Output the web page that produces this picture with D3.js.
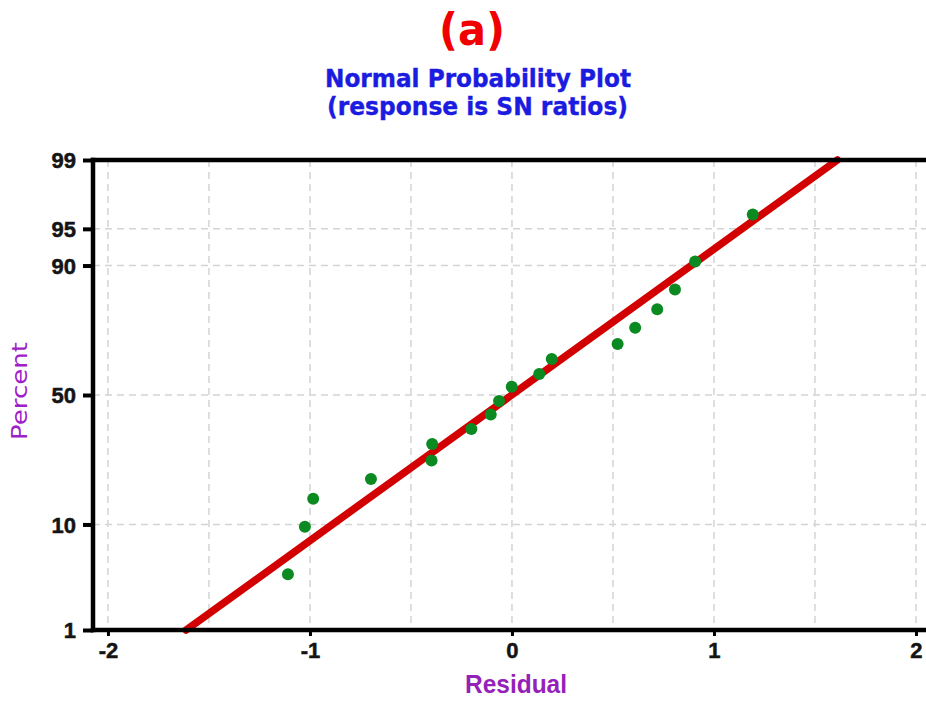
<!DOCTYPE html>
<html>
<head>
<meta charset="utf-8">
<script src="https://cdn.jsdelivr.net/npm/d3@7"></script>
<style>
  html, body { margin: 0; padding: 0; background: #ffffff; overflow: hidden; }
  svg { display: block; }
</style>
</head>
<body>
<svg id="chart" width="926" height="708"></svg>
<script>
// Residuals of the SN-ratio response, in plotting order
const residuals = [-1.109, -1.025, -0.984, -0.698, -0.398, -0.395, -0.201, -0.105, -0.064,
                   -0.001, 0.135, 0.197, 0.523, 0.610, 0.719, 0.807, 0.907, 1.192];
// Cumulative percent for each residual
const percents = [3.8, 9.6, 15.2, 20.3, 25.8, 31.4, 36.8, 42.3, 47.6,
                  53.3, 58.2, 63.9, 69.3, 74.7, 80.2, 85.2, 90.7, 96.3];
// Fitted normal line, given by its two ends
const fitPercents = [1, 99];
const fitResiduals = [-1.613, 1.611];
// Axis ticks
const xTicks = [-2, -1, 0, 1, 2];
const xGrid = [-2, -1.5, -1, -0.5, 0, 0.5, 1, 1.5, 2];
const yTicks = [1, 10, 50, 90, 95, 99];
const yGrid = [10, 50, 90, 95];

// Inverse standard normal CDF (Acklam's rational approximation)
function probit(p) {
  const a = [-3.969683028665376e+01, 2.209460984245205e+02, -2.759285104469687e+02,
             1.383577518672690e+02, -3.066479806614716e+01, 2.506628277459239e+00];
  const b = [-5.447609879822406e+01, 1.615858368580409e+02, -1.556989798598866e+02,
             6.680131188771972e+01, -1.328068155288572e+01];
  const c = [-7.784894002430293e-03, -3.223964580411365e-01, -2.400758277161838e+00,
             -2.549671010862254e+00, 4.374664141464968e+00, 2.938163982698783e+00];
  const d = [7.784695709041462e-03, 3.224671290700398e-01, 2.445134137142996e+00,
             3.754408661907416e+00];
  const pl = 0.02425, ph = 1 - pl;
  let q, r;
  if (p < pl) {
    q = Math.sqrt(-2 * Math.log(p));
    return (((((c[0]*q+c[1])*q+c[2])*q+c[3])*q+c[4])*q+c[5]) /
           ((((d[0]*q+d[1])*q+d[2])*q+d[3])*q+1);
  }
  if (p <= ph) {
    q = p - 0.5; r = q * q;
    return (((((a[0]*r+a[1])*r+a[2])*r+a[3])*r+a[4])*r+a[5])*q /
           (((((b[0]*r+b[1])*r+b[2])*r+b[3])*r+b[4])*r+1);
  }
  q = Math.sqrt(-2 * Math.log(1 - p));
  return -(((((c[0]*q+c[1])*q+c[2])*q+c[3])*q+c[4])*q+c[5]) /
          ((((d[0]*q+d[1])*q+d[2])*q+d[3])*q+1);
}

const svg = d3.select("#chart");
const plot = { left: 93, right: 939, top: 160, bottom: 630 };

const x = d3.scaleLinear().domain([-2.074, 2.114]).range([plot.left, plot.right]);
// Normal probability scale: linear in the standard normal quantile
const zScale = d3.scaleLinear().domain([probit(0.01), probit(0.99)]).range([plot.bottom, plot.top]);
const y = pct => zScale(probit(pct / 100));

svg.append("rect").attr("width", 926).attr("height", 708).attr("fill", "#ffffff");

// Titles
svg.append("text").attr("x", 472).attr("y", 45).attr("text-anchor", "middle")
  .attr("font-family", "'DejaVu Sans', sans-serif").attr("font-weight", "bold")
  .attr("font-size", 45).attr("fill", "#f00000")
  .attr("textLength", 66).attr("lengthAdjust", "spacingAndGlyphs")
  .text("(a)");
svg.append("text").attr("x", 478).attr("y", 87).attr("text-anchor", "middle")
  .attr("font-family", "'DejaVu Sans', sans-serif").attr("font-weight", "bold")
  .attr("font-size", 25).attr("fill", "#1c1ce0")
  .attr("stroke", "#1c1ce0").attr("stroke-width", 0.4)
  .attr("textLength", 306).attr("lengthAdjust", "spacingAndGlyphs")
  .text("Normal Probability Plot");
svg.append("text").attr("x", 477.5).attr("y", 115).attr("text-anchor", "middle")
  .attr("font-family", "'DejaVu Sans', sans-serif").attr("font-weight", "bold")
  .attr("font-size", 25).attr("fill", "#1c1ce0")
  .attr("stroke", "#1c1ce0").attr("stroke-width", 0.4)
  .attr("textLength", 301).attr("lengthAdjust", "spacingAndGlyphs")
  .text("(response is SN ratios)");

// Grid
const grid = svg.append("g").attr("stroke", "#d4d4d4").attr("stroke-width", 1.5)
  .attr("stroke-dasharray", "7,5").attr("fill", "none");
grid.selectAll("line.v").data(xGrid).join("line").attr("class", "v")
  .attr("x1", d => x(d)).attr("x2", d => x(d))
  .attr("y1", plot.top).attr("y2", plot.bottom);
grid.selectAll("line.h").data(yGrid).join("line").attr("class", "h")
  .attr("x1", plot.left).attr("x2", plot.right)
  .attr("y1", d => y(d)).attr("y2", d => y(d));

// Fitted line
const fit = fitPercents.map((p, i) => [fitResiduals[i], p]);
svg.append("path").datum(fit)
  .attr("d", d3.line().x(d => x(d[0])).y(d => y(d[1])))
  .attr("stroke", "#d20000").attr("stroke-width", 7.5).attr("stroke-linecap", "round")
  .attr("fill", "none");

// Residual points
svg.append("g").selectAll("circle").data(residuals.map((r, i) => [r, percents[i]])).join("circle")
  .attr("cx", d => x(d[0])).attr("cy", d => y(d[1])).attr("r", 6)
  .attr("fill", "#0b8a22");

// Axes
const tickFont = sel => sel
  .attr("font-family", "'Liberation Sans', Arial, sans-serif").attr("font-weight", "bold")
  .attr("font-size", 22).attr("fill", "#141414")
  .attr("stroke", "#141414").attr("stroke-width", 0.5);

const xAxis = d3.axisBottom(x).tickValues(xTicks).tickSize(6).tickSizeOuter(0)
  .tickFormat(d3.format("d"));
const gx = svg.append("g").attr("transform", `translate(0,${plot.bottom})`).call(xAxis);
gx.select(".domain").remove();
gx.selectAll(".tick line").attr("stroke", "#000").attr("stroke-width", 3);
gx.selectAll(".tick text").attr("y", 28).attr("dy", 0)
  .call(tickFont)
  .text(d => d < 0 ? "-" + Math.abs(d) : d);

const yAxis = d3.axisLeft(zScale).tickValues(yTicks.map(p => probit(p / 100)))
  .tickSize(10).tickSizeOuter(0).tickFormat((d, i) => yTicks[i]);
const gy = svg.append("g").attr("transform", `translate(${plot.left},0)`).call(yAxis);
gy.select(".domain").remove();
gy.selectAll(".tick line").attr("stroke", "#000").attr("stroke-width", 4);
gy.selectAll(".tick text").attr("x", -17).attr("dy", "0.36em").call(tickFont);

// Frame: left, top and bottom borders
const frame = svg.append("g").attr("stroke", "#000").attr("stroke-width", 4.5).attr("stroke-linecap", "square");
frame.append("line").attr("x1", plot.left).attr("x2", plot.left).attr("y1", plot.top).attr("y2", plot.bottom);
frame.append("line").attr("x1", plot.left).attr("x2", plot.right).attr("y1", plot.top).attr("y2", plot.top);
frame.append("line").attr("x1", plot.left).attr("x2", plot.right).attr("y1", plot.bottom).attr("y2", plot.bottom);

// Axis titles
svg.append("text").attr("x", 516).attr("y", 693).attr("text-anchor", "middle")
  .attr("font-family", "'Liberation Sans', Arial, sans-serif").attr("font-weight", "bold")
  .attr("font-size", 25).attr("fill", "#9422b8")
  .attr("textLength", 102).attr("lengthAdjust", "spacingAndGlyphs")
  .text("Residual");
svg.append("text").attr("transform", "translate(27,391) rotate(-90)").attr("text-anchor", "middle")
  .attr("font-family", "'DejaVu Sans', sans-serif")
  .attr("font-size", 21).attr("fill", "#a020c8")
  .attr("textLength", 98).attr("lengthAdjust", "spacingAndGlyphs")
  .text("Percent");
</script>
</body>
</html>
